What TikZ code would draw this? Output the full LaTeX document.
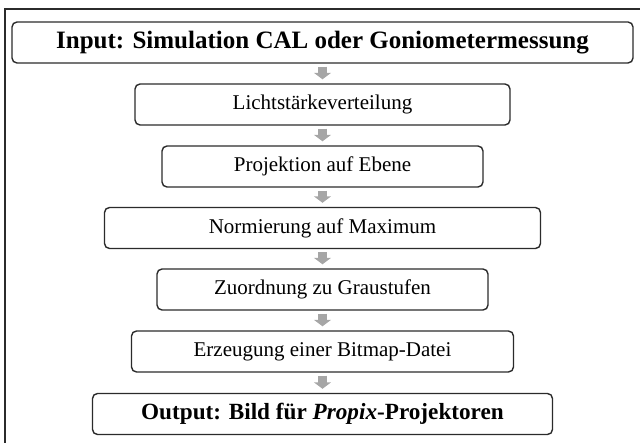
\documentclass[tikz,border=0pt]{standalone}
\usepackage{fontspec}
\setmainfont{Liberation Serif}
\usetikzlibrary{arrows.meta}
\definecolor{arrowgray}{HTML}{A6A6A6}
\definecolor{linegray}{HTML}{2B2B2B}
\tikzset{
  stepbox/.style={draw=linegray, line width=1.4pt, rounded corners=5pt, inner sep=0pt,
    minimum height=41pt, align=center, font=\fontsize{21}{24}\selectfont},
  boldbox/.style={stepbox, font=\fontsize{25}{28}\selectfont\bfseries},
  outbox/.style={stepbox, font=\fontsize{23.2}{26}\selectfont\bfseries},
  flowarrow/.style={draw=arrowgray, line width=9.5pt, shorten <=3pt, shorten >=4pt,
    -{Triangle[width=17pt, length=6.5pt]}},
  frameline/.style={draw=linegray, line width=1.2pt}
}
\begin{document}
\begin{tikzpicture}[x=1pt, y=-1pt]
\useasboundingbox (0,0) rectangle (640,443);
\clip (0,0) rectangle (640,443);
\coordinate (fbl) at (5,460);
\coordinate (ftl) at (5,9);
\coordinate (ftr) at (660,9);
\draw[frameline] (fbl) -- (ftl) -- (ftr);
\node[boldbox, minimum width=621pt] (b1) at (322.5,42.5) {Input: Simulation CAL oder Goniometermessung};
\node[stepbox, minimum width=375pt] (b2) at (322.5,104.5) {Lichtstärkeverteilung};
\node[stepbox, minimum width=321pt] (b3) at (322.5,166.5) {Projektion auf Ebene};
\node[stepbox, minimum width=436pt] (b4) at (322.5,228) {Normierung auf Maximum};
\node[stepbox, minimum width=331pt] (b5) at (322.5,289.5) {Zuordnung zu Graustufen};
\node[stepbox, minimum width=382pt] (b6) at (322.5,351.5) {Erzeugung einer Bitmap-Datei};
\node[outbox, minimum width=460pt] (b7) at (322.5,414) {Output: Bild für \textit{Propix}-Projektoren};
\draw[flowarrow] (b1.south) -- (b2.north);
\draw[flowarrow] (b2.south) -- (b3.north);
\draw[flowarrow] (b3.south) -- (b4.north);
\draw[flowarrow] (b4.south) -- (b5.north);
\draw[flowarrow] (b5.south) -- (b6.north);
\draw[flowarrow] (b6.south) -- (b7.north);
\end{tikzpicture}
\end{document}
